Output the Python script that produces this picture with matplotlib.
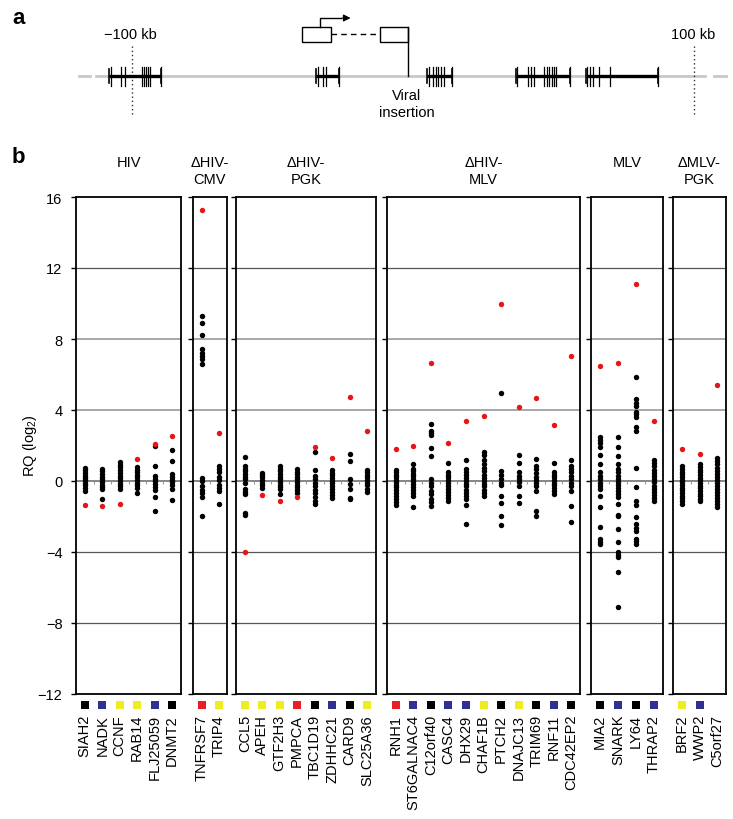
import matplotlib
matplotlib.use('Agg')
import matplotlib.pyplot as plt
from matplotlib.transforms import blended_transform_factory
from matplotlib.patches import Rectangle

plt.rcParams['font.family'] = ['Liberation Sans', 'DejaVu Sans']
plt.rcParams['font.size'] = 10.5

# ---- panel a: locus schematic (positions in kb around the insertion) ----
GENE_SPANS_KB = [(-108.2, -89.7), (-34.5, -26.3), (5.0, 13.9), (36.7, 55.9), (61.6, 87.2)]
EXON_KB = [
    [-107.5, -103.9, -102.5, -96.4, -95.7, -95.0, -94.3, -93.6, -89.7],
    [-33.8, -32.0, -31.0, -26.3],
    [5.7, 7.1, 8.2, 8.9, 10.0, 11.0, 13.9],
    [37.0, 40.9, 42.0, 43.1, 46.6, 47.7, 48.4, 49.5, 50.2, 50.9, 55.9],
    [61.9, 63.0, 64.1, 66.2, 70.1, 87.2],
]
INSERTION_KB = -1.8
WINDOW_KB = [-100, 100]

# ---- panel b: RQ (log2) per gene ----
GROUP_NAMES = ["HIV", "\u0394HIV-\nCMV", "\u0394HIV-\nPGK", "\u0394HIV-\nMLV", "MLV", "\u0394MLV-\nPGK"]
GENES = [
    ["SIAH2", "NADK", "CCNF", "RAB14", "FLJ25059", "DNMT2"],
    ["TNFRSF7", "TRIP4"],
    ["CCL5", "APEH", "GTF2H3", "PMPCA", "TBC1D19", "ZDHHC21", "CARD9", "SLC25A36"],
    ["RNH1", "ST6GALNAC4", "C12orf40", "CASC4", "DHX29", "CHAF1B", "PTCH2", "DNAJC13",
     "TRIM69", "RNF11", "CDC42EP2"],
    ["MIA2", "SNARK", "LY64", "THRAP2"],
    ["BRF2", "WWP2", "C5orf27"],
]
SQUARE_COLORS = [
    ["k", "b", "y", "y", "b", "k"],
    ["r", "y"],
    ["y", "y", "y", "r", "k", "b", "k", "y"],
    ["r", "b", "k", "b", "b", "y", "k", "y", "k", "b", "k"],
    ["k", "b", "k", "b"],
    ["y", "b", None],
]
BLACK_RQ = {
    "SIAH2": [0.75, 0.6, 0.45, 0.3, 0.15, 0.05, -0.1, -0.25, -0.4, -0.56],
    "NADK": [0.7, 0.55, 0.4, 0.25, 0.1, -0.05, -0.2, -0.35, -0.43, -1.03],
    "CCNF": [1.07, 0.92, 0.77, 0.6, 0.45, 0.3, 0.15, 0.0, -0.15, -0.3, -0.43],
    "RAB14": [0.77, 0.62, 0.48, 0.33, 0.2, 0.05, -0.1, -0.25, -0.38, -0.68],
    "FLJ25059": [1.97, 0.86, 0.28, 0.12, -0.02, -0.18, -0.35, -0.5, -0.88, -1.69],
    "DNMT2": [1.73, 1.15, 0.38, 0.22, 0.08, -0.08, -0.25, -0.47, -1.07],
    "TNFRSF7": [9.3, 8.88, 8.24, 7.42, 7.23, 7.04, 6.85, 6.6, 0.15, 0.0, -0.3, -0.5, -0.7, -0.9, -1.97],
    "TRIP4": [0.85, 0.68, 0.5, 0.2, 0.05, -0.2, -0.4, -0.56, -1.28],
    "CCL5": [1.37, 0.85, 0.7, 0.55, 0.4, 0.25, 0.1, -0.1, -0.47, -0.6, -0.71, -1.78, -1.9],
    "APEH": [0.47, 0.33, 0.2, 0.05, -0.1, -0.25, -0.38],
    "GTF2H3": [0.85, 0.7, 0.55, 0.4, 0.25, 0.1, -0.05, -0.2, -0.32, -0.43, -0.75],
    "PMPCA": [0.66, 0.52, 0.38, 0.24, 0.1, -0.05, -0.2, -0.35, -0.5, -0.66],
    "TBC1D19": [1.63, 0.64, 0.28, 0.1, -0.1, -0.3, -0.5, -0.7, -0.9, -1.1, -1.31],
    "ZDHHC21": [0.62, 0.47, 0.32, 0.17, 0.02, -0.13, -0.28, -0.43, -0.6, -0.78, -0.96],
    "CARD9": [1.54, 1.11, 0.09, -0.19, -0.47, -0.94, -1.03],
    "SLC25A36": [0.62, 0.48, 0.34, 0.2, 0.06, -0.1, -0.25, -0.45, -0.62],
    "RNH1": [0.64, 0.5, 0.36, 0.22, 0.08, -0.06, -0.2, -0.35, -0.5, -0.66, -0.82, -1.0, -1.18, -1.35],
    "ST6GALNAC4": [0.96, 0.68, 0.54, 0.4, 0.26, 0.12, -0.02, -0.17, -0.32, -0.5, -0.68, -0.83, -1.45],
    "C12orf40": [3.19, 2.84, 2.7, 2.59, 1.88, 1.41, 0.11, -0.1, -0.3, -0.55, -0.75, -1.0, -1.2, -1.39],
    "CASC4": [1.01, 0.49, 0.35, 0.2, 0.05, -0.1, -0.27, -0.45, -0.62, -0.8, -0.95, -1.11],
    "DHX29": [1.2, 0.68, 0.5, 0.32, 0.15, 0.0, -0.15, -0.3, -0.48, -0.65, -0.82, -1.01, -1.35, -2.44],
    "CHAF1B": [1.65, 1.45, 1.2, 0.95, 0.75, 0.55, 0.35, 0.15, 0.0, -0.15, -0.3, -0.5, -0.68, -0.83],
    "PTCH2": [4.94, 0.54, 0.32, 0.1, -0.1, -0.23, -0.86, -1.24, -1.95, -2.46],
    "DNAJC13": [1.48, 1.03, 0.49, 0.3, 0.12, -0.05, -0.26, -0.85, -1.22],
    "TRIM69": [1.24, 0.86, 0.66, 0.45, 0.21, 0.05, -0.1, -0.3, -0.54, -1.67, -1.95],
    "RNF11": [1.03, 0.49, 0.34, 0.2, 0.05, -0.1, -0.25, -0.4, -0.56, -0.73],
    "CDC42EP2": [1.2, 0.86, 0.7, 0.5, 0.3, 0.1, -0.1, -0.3, -0.54, -1.39, -2.33],
    "MIA2": [2.46, 2.3, 2.12, 1.9, 1.46, 0.96, 0.49, 0.3, 0.1, -0.1, -0.3, -0.45, -0.83, -1.48,
             -2.61, -3.27, -3.42, -3.55],
    "SNARK": [2.46, 1.9, 1.43, 0.96, 0.68, 0.5, 0.3, 0.12, -0.05, -0.2, -0.38, -0.55, -0.75, -0.92,
              -1.3, -1.92, -1.99, -2.7, -3.46, -3.98, -4.15, -4.3, -5.15, -7.08],
    "LY64": [5.88, 4.62, 4.42, 4.24, 3.9, 3.75, 3.59, 3.02, 2.84, 0.73, -0.36, -1.11, -1.33, -2.05,
             -2.42, -2.62, -2.8, -3.27, -3.4, -3.55],
    "THRAP2": [1.18, 1.0, 0.82, 0.64, 0.46, 0.28, 0.1, -0.08, -0.26, -0.44, -0.62, -0.8, -0.95, -1.11],
    "BRF2": [0.83, 0.68, 0.53, 0.38, 0.23, 0.08, -0.07, -0.22, -0.37, -0.52, -0.67, -0.82, -0.97,
             -1.12, -1.3],
    "WWP2": [0.94, 0.79, 0.64, 0.49, 0.34, 0.19, 0.04, -0.11, -0.26, -0.41, -0.56, -0.71, -0.86,
             -1.0, -1.11],
    "C5orf27": [1.28, 1.1, 0.93, 0.76, 0.59, 0.42, 0.25, 0.08, -0.09, -0.26, -0.43, -0.6, -0.77,
                -0.94, -1.1, -1.28, -1.48],
}
RED_RQ = {
    "SIAH2": -1.33, "NADK": -1.43, "CCNF": -1.28, "RAB14": 1.22, "FLJ25059": 2.1, "DNMT2": 2.52,
    "TNFRSF7": 15.29, "TRIP4": 2.69,
    "CCL5": -4.0, "APEH": -0.79, "GTF2H3": -1.15, "PMPCA": -0.88, "TBC1D19": 1.92,
    "ZDHHC21": 1.31, "CARD9": 4.73, "SLC25A36": 2.84,
    "RNH1": 1.78, "ST6GALNAC4": 1.95, "C12orf40": 6.63, "CASC4": 2.14, "DHX29": 3.4,
    "CHAF1B": 3.66, "PTCH2": 9.97, "DNAJC13": 4.15, "TRIM69": 4.68, "RNF11": 3.17, "CDC42EP2": 7.02,
    "MIA2": 6.46, "SNARK": 6.67, "LY64": 11.1, "THRAP2": 3.36,
    "BRF2": 1.78, "WWP2": 1.5, "C5orf27": 5.39,
}
Y_TICKS = [-12, -8, -4, 0, 4, 8, 12, 16]
Y_TICK_LABELS = ["\u221212", "\u22128", "\u22124", "0", "4", "8", "12", "16"]

COLOR_MAP = {"k": "#000000", "b": "#2e3192", "y": "#eeee1e", "r": "#ec1c24"}
RED = "#e8161b"

W, H = 733, 820
fig = plt.figure(figsize=(W / 100, H / 100), dpi=100)

# ------------------------- panel a -------------------------
A_H = 130
ax_a = fig.add_axes([0, 1 - A_H / H, 1, A_H / H])
px_per_kb = 2.81
ax_a.set_xlim(-413 / px_per_kb, (W - 413) / px_per_kb)
ax_a.set_ylim(A_H, 0)
ax_a.axis('off')

base_y = 77
ax_a.plot([-112.8, 103.9], [base_y, base_y], color='#c8c8c8', lw=2, zorder=1)
ax_a.plot([-119.0, -115.0], [base_y, base_y], color='#c8c8c8', lw=2, zorder=1)
ax_a.plot([107.0, 111.4], [base_y, base_y], color='#c8c8c8', lw=2, zorder=1)
for kb in WINDOW_KB:
    ax_a.plot([kb, kb], [47, 117], color='#333333', lw=1, ls=(0, (1, 2)), zorder=1)
ax_a.text(-100.7, 35, "\u2212100 kb", ha='center', va='center')
ax_a.text(99.6, 35, "100 kb", ha='center', va='center')

for (s, e), exons in zip(GENE_SPANS_KB, EXON_KB):
    ax_a.plot([s, e], [base_y, base_y], color='black', lw=2.4, zorder=2, solid_capstyle='butt')
    for ex in exons:
        ax_a.plot([ex, ex], [base_y - 9.5, base_y + 9.5], color='black', lw=0.9, zorder=2)
    for ex in (s, e):
        ax_a.plot([ex, ex], [base_y - 7, base_y + 7], color='black', lw=1.2, zorder=2)

# construct above the insertion
ax_a.add_patch(Rectangle((-39.5, 28), 10.3, 15, fill=False, ec='black', lw=1))
ax_a.add_patch(Rectangle((-11.7, 28), 9.9, 15, fill=False, ec='black', lw=1))
ax_a.plot([-29.2, -11.7], [34.5, 34.5], color='black', lw=1, ls=(0, (4, 3)))
ax_a.plot([INSERTION_KB, INSERTION_KB], [28, base_y], color='black', lw=1)
ax_a.plot([-33.1, -33.1, -25.5], [28, 19, 19], color='black', lw=1)
ax_a.annotate('', xy=(-21.2, 19), xytext=(-26.0, 19),
              arrowprops=dict(arrowstyle='-|>', color='black', lw=1, mutation_scale=10))
ax_a.text(INSERTION_KB - 0.5, 89, "Viral\ninsertion", ha='center', va='top', linespacing=1.25)

fig.text(12 / W, 1 - 18 / H, "a", fontsize=16, fontweight='bold', va='center', ha='left')
fig.text(12 / W, 1 - 158 / H, "b", fontsize=16, fontweight='bold', va='center', ha='left')

# ------------------------- panel b -------------------------
PANEL_PX = [(76, 181), (193, 227), (236, 376), (387, 580), (591, 663), (673, 726)]
top_px, bot_px = 198, 695
grid_style = {-8: ('#555555', 0.9), -4: ('#555555', 0.9), 0: ('#666666', 1.1),
              4: ('#a8a8a8', 1.4), 8: ('#a8a8a8', 1.4), 12: ('#555555', 0.9)}
tick_colors = ['black', '#555555', '#555555', '#666666', '#a8a8a8', '#a8a8a8', '#555555', 'black']

for gi, (name, genes) in enumerate(zip(GROUP_NAMES, GENES)):
    x0, x1 = PANEL_PX[gi]
    ax = fig.add_axes([x0 / W, 1 - bot_px / H, (x1 - x0) / W, (bot_px - top_px) / H])
    n = len(genes)
    ax.set_xlim(-0.5, n - 0.5)
    ax.set_ylim(-12, 16)
    for yv, (c, lw) in grid_style.items():
        ax.axhline(yv, color=c, lw=lw, zorder=1)
    ax.vlines([k + 0.5 for k in range(n - 1)], -0.17, 0, color='#999999', lw=0.8, zorder=1)

    for k, g in enumerate(genes):
        vals = BLACK_RQ[g]
        ax.plot([k] * len(vals), vals, 'o', color='black', ms=3.9, mew=0, zorder=3)
        ax.plot([k], [RED_RQ[g]], 'o', color=RED, ms=3.9, mew=0, zorder=4)

    tr = blended_transform_factory(ax.transData, ax.transAxes)
    for k, (g, c) in enumerate(zip(genes, SQUARE_COLORS[gi])):
        if c is not None:
            ax.plot([k], [-11 / (bot_px - top_px)], 's', color=COLOR_MAP[c], ms=5.2, mew=0,
                    transform=tr, clip_on=False)
        ax.text(k, -20 / (bot_px - top_px), g, rotation=90, ha='center', va='top',
                transform=tr, fontsize=10.5)

    ax.set_xticks([])
    ax.set_yticks(Y_TICKS)
    if gi == 0:
        ax.set_yticklabels(Y_TICK_LABELS)
    else:
        ax.set_yticklabels([])
    ax.tick_params(axis='y', direction='out', length=3.8, width=1, pad=6, labelsize=10.5)
    for tick, c in zip(ax.yaxis.get_major_ticks(), tick_colors):
        tick.tick1line.set_color(c)
    for sp in ax.spines.values():
        sp.set_linewidth(1.3)
        sp.set_color('black')

    fig.text((x0 + x1) / 2 / W, 1 - 156 / H, name, ha='center', va='top', linespacing=1.3)

fig.text(30 / W, 1 - 446 / H, "RQ (log$_\\mathregular{2}$)", rotation=90, ha='center', va='center')

fig.savefig('out.png', dpi=100)
